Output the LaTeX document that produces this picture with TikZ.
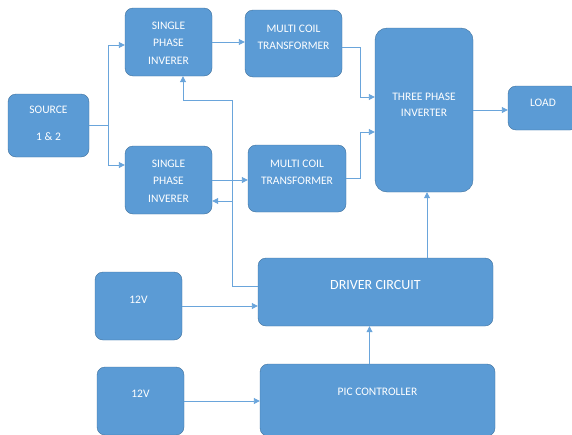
\documentclass[tikz,border=0pt]{standalone}
\usepackage{fontspec}
\setmainfont{Carlito}
\usetikzlibrary{arrows.meta}
\definecolor{boxblue}{HTML}{5B9BD5}
\definecolor{edgeblue}{HTML}{41719C}
\definecolor{lineblue}{HTML}{6AA5DB}

\begin{document}
\begin{tikzpicture}[x=1pt,y=-1pt,
    block/.style={draw=edgeblue,fill=boxblue,rounded corners=8pt,inner sep=0pt},
    lbl/.style={text=white,align=center,inner sep=0pt,font=\fontsize{11.5}{16.5}\selectfont},
    link/.style={draw=lineblue,line width=0.9pt},
    arr/.style={link,-{Triangle[length=6pt,width=6pt]}}]
    \useasboundingbox (0,0) rectangle (572,434);
    % blocks
    \node (src) at (48.5,125.5) [block,minimum width=81pt,minimum height=63pt,
      label={[lbl,yshift=2pt]center:SOURCE\\[10pt]1 \& 2}] {};
    \node (spiA) at (168.5,42) [block,minimum width=87pt,minimum height=68pt,
      label={[lbl,yshift=-1pt,font=\fontsize{11.5}{17.5}\selectfont]center:SINGLE\\PHASE\\INVERER}] {};
    \node (spiB) at (168.5,180) [block,minimum width=87pt,minimum height=68pt,
      label={[lbl,yshift=-1pt,font=\fontsize{11.5}{17.5}\selectfont]center:SINGLE\\PHASE\\INVERER}] {};
    \node (mctA) at (293.5,43.5) [block,minimum width=97pt,minimum height=67pt,
      label={[lbl,yshift=6pt]center:MULTI COIL\\TRANSFORMER}] {};
    \node (mctB) at (297,178.5) [block,minimum width=98pt,minimum height=67pt,
      label={[lbl,yshift=6pt]center:MULTI COIL\\TRANSFORMER}] {};
    \node (tpi) at (424,110) [block,rounded corners=12pt,minimum width=98pt,minimum height=164pt,
      label={[lbl,yshift=5pt]center:THREE PHASE\\INVERTER}] {};
    \node (load) at (543,108) [block,minimum width=70pt,minimum height=44pt,
      label={[lbl,yshift=5pt]center:LOAD}] {};
    \node (drv) at (375.5,292) [block,minimum width=235pt,minimum height=68pt,
      label={[lbl,yshift=7pt,font=\fontsize{14}{16}\selectfont]center:DRIVER CIRCUIT}] {};
    \node (pic) at (377.5,400) [block,minimum width=235pt,minimum height=72pt,
      label={[lbl,yshift=8pt]center:PIC CONTROLLER}] {};
    \node (vA) at (138.5,306) [block,minimum width=87pt,minimum height=68pt,
      label={[lbl,yshift=6pt]center:12V}] {};
    \node (vB) at (140.5,401) [block,minimum width=87pt,minimum height=68pt,
      label={[lbl,yshift=7pt]center:12V}] {};
    % source to both inverters
    \draw[link] (src.east) -- ++(19,0) coordinate (fork);
    \draw[arr] (fork) |- ([yshift=-3pt]spiA.west);
    \draw[arr] (fork) |- ([yshift=15pt]spiB.west);
    % power path
    \draw[arr] (spiA.east) -- (spiA.east -| mctA.west);
    \draw[arr] (spiB.east) -- (spiB.east -| mctB.west);
    \draw[arr] ([yshift=-4pt]mctA.east) -| ([xshift=-14pt,yshift=13pt]tpi.west) -- ([yshift=13pt]tpi.west);
    \draw[arr] (mctB.east) -| ([xshift=-14pt,yshift=-22pt]tpi.west) -- ([yshift=-22pt]tpi.west);
    \draw[arr] (tpi.east) -- (tpi.east -| load.west);
    % control path
    \draw[arr] ([xshift=3pt]tpi.south |- drv.north) -- ([xshift=3pt]tpi.south);
    \draw[arr] ([xshift=-8pt]pic.north) -- ([xshift=-8pt]pic.north |- drv.south);
    \draw[arr] (vA.east) -- (vA.east -| drv.west);
    \draw[arr] (vB.east) -- (vB.east -| pic.west);
    \coordinate (fbtop) at (232,100);
    \coordinate (fbmid) at (232,201);
    \draw[arr] ([yshift=6pt]drv.west) -| (fbtop) -| ([xshift=14.5pt]spiA.south);
    \draw[arr] (fbmid) -- (fbmid -| spiB.east);
\end{tikzpicture}
\end{document}
